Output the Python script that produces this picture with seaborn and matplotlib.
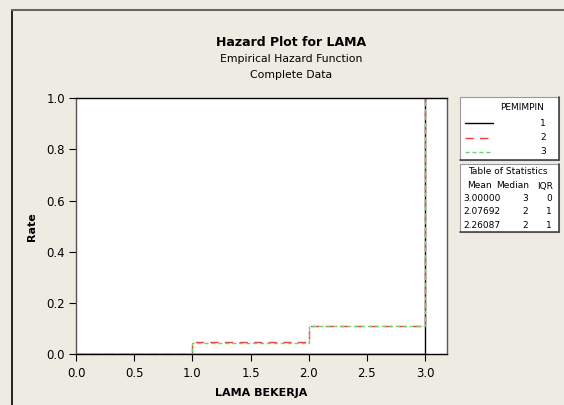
import numpy as np
import pandas as pd
import matplotlib
matplotlib.use("Agg")
import matplotlib.pyplot as plt
import seaborn as sns
from matplotlib.patches import Rectangle
from matplotlib.lines import Line2D

# hazard steps (rate per group at each time)
groups = ["1", "2", "3"]
times = {"1": [0.0, 3.0],
         "2": [0.0, 1.0, 2.0, 3.0],
         "3": [0.0, 1.0, 2.0, 3.0]}
rates = {"1": [0.0, 1.0],
         "2": [0.0, 0.047, 0.111, 1.0],
         "3": [0.0, 0.043, 0.111, 1.0]}
means = ["3.00000", "2.07692", "2.26087"]
medians = ["3", "2", "2"]
iqrs = ["0", "1", "1"]

colors = {"1": "black", "2": "#F03C3C", "3": "#70D070"}
dashes = {"1": (None, None), "2": (6, 4.5), "3": (3, 2)}

bg = "#EEEBE2"
sns.set_style("white")
plt.rcParams["font.family"] = ["DejaVu Sans"]
plt.rcParams["text.color"] = "black"

fig = plt.figure(figsize=(5.64, 4.05), dpi=100, facecolor=bg)
ax = fig.add_axes([0.1348, 0.125, 0.658, 0.633])
ax.set_facecolor("white")

rows = []
for g in groups:
    for t, r in zip(times[g], rates[g]):
        rows.append({"t": t, "rate": r, "grp": g})
df = pd.DataFrame(rows)

for g in groups:
    sub = df[df["grp"] == g]
    sns.lineplot(data=sub, x="t", y="rate", ax=ax, color=colors[g],
                 drawstyle="steps-post", lw=1.0, estimator=None, sort=False)
    l = ax.lines[-1]
    if g != "1":
        l.set_dashes(dashes[g])

ax.set_xlim(0, 3.19)
ax.set_ylim(0, 1.0)
xt = np.arange(0, 3.01, 0.5)
yt = np.arange(0, 1.01, 0.2)
ax.set_xticks(xt)
ax.set_yticks(yt)
ax.set_xticklabels([f"{v:.1f}" for v in xt])
ax.set_yticklabels([f"{v:.1f}" for v in yt])
ax.tick_params(axis="both", direction="out", length=5, width=0.8,
               labelsize=8.5, colors="black", bottom=True, left=True)
ax.tick_params(axis="x", pad=4)
ax.tick_params(axis="y", pad=3)
for s in ["top", "bottom"]:
    ax.spines[s].set_color("black")
for s in ["left", "right"]:
    ax.spines[s].set_color("#555555")
for s in ax.spines.values():
    s.set_linewidth(1.0)
ax.set_xlabel("LAMA BEKERJA", fontsize=8, fontweight="bold", labelpad=6,
              color="black")
ax.set_ylabel("Rate", fontsize=8, fontweight="bold", labelpad=7,
              color="black")

# titles
W, H = 564.0, 405.0
cx = 291 / W
fig.text(cx, 1 - 42 / H, "Hazard Plot for LAMA", ha="center", va="center",
         fontsize=9, fontweight="bold")
fig.text(cx, 1 - 59 / H, "Empirical Hazard Function", ha="center",
         va="center", fontsize=7.8)
fig.text(cx, 1 - 75 / H, "Complete Data", ha="center", va="center",
         fontsize=7.8)

# outer frame of the graph window
fig.add_artist(Line2D([12 / W, 12 / W], [0, 1 - 10 / H], color="black",
                      lw=1.2, transform=fig.transFigure))
fig.add_artist(Line2D([12 / W, 1], [1 - 10 / H, 1 - 10 / H], color="#666666",
                      lw=1.5, transform=fig.transFigure))


def box(x0, y0, x1, y1):
    fig.add_artist(Rectangle((x0 / W, 1 - y1 / H), (x1 - x0) / W,
                             (y1 - y0) / H, transform=fig.transFigure,
                             facecolor="white", edgecolor="#999999", lw=0.8))
    fig.add_artist(Line2D([x1 / W, x1 / W], [1 - y1 / H, 1 - y0 / H],
                          color="#444444", lw=1.2, transform=fig.transFigure))
    fig.add_artist(Line2D([x0 / W, x1 / W], [1 - y1 / H, 1 - y1 / H],
                          color="#444444", lw=1.2, transform=fig.transFigure))


# legend box
box(460, 97, 559, 160)
fs = 6.5
fig.text(544 / W, 1 - 107 / H, "PEMIMPIN", ha="right", va="center",
         fontsize=fs)
for i, g in enumerate(groups):
    yy = 1 - (123 + i * 14.5) / H
    ln = Line2D([465 / W, 493 / W], [yy, yy], color=colors[g], lw=1.0,
                transform=fig.transFigure)
    if g != "1":
        ln.set_dashes(dashes[g])
    fig.add_artist(ln)
    fig.text(546 / W, yy, g, ha="right", va="center", fontsize=fs)

# statistics table
box(460, 164, 559, 232)
fig.text(508 / W, 1 - 171 / H, "Table of Statistics", ha="center",
         va="center", fontsize=fs)
fig.text(492 / W, 1 - 186 / H, "Mean", ha="right", va="center", fontsize=fs)
fig.text(529 / W, 1 - 186 / H, "Median", ha="right", va="center", fontsize=fs)
fig.text(553 / W, 1 - 186 / H, "IQR", ha="right", va="center", fontsize=fs)
for i in range(len(means)):
    yy = 1 - (198 + i * 13.5) / H
    fig.text(463 / W, yy, means[i], ha="left", va="center", fontsize=fs)
    fig.text(528 / W, yy, medians[i], ha="right", va="center", fontsize=fs)
    fig.text(552 / W, yy, iqrs[i], ha="right", va="center", fontsize=fs)

fig.savefig("out.png", dpi=100, facecolor=bg)
